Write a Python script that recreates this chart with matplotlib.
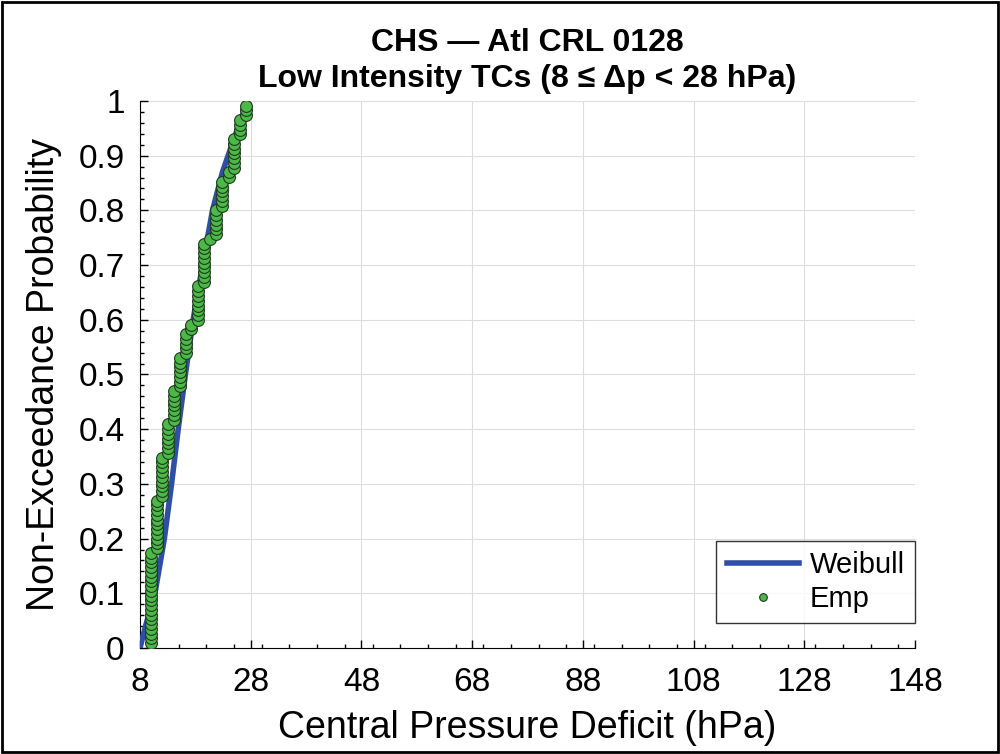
import matplotlib
matplotlib.use("Agg")
import numpy as np
import matplotlib.pyplot as plt
from matplotlib.ticker import MultipleLocator
from matplotlib.patches import Rectangle

# empirical sample: distinct deficits (hPa) and how many storms at each
emp_values = [9.9, 11.0, 12.0, 13.1, 14.2, 15.2, 16.3, 17.3, 18.5, 19.5,
              20.6, 21.8, 22.9, 24.0, 25.0, 26.1, 27.2]
emp_counts = [20, 11, 9, 7, 7, 7, 5, 2, 8, 9, 1, 6, 6, 2, 7, 4, 3]

# fitted Weibull CDF
wb_x = [8.0, 9.0, 10.7, 12.4, 13.7, 14.9, 16.2, 17.6, 19.3, 21.1, 22.9, 24.6, 26.0, 27.3]
wb_p = [0.0, 0.04, 0.10, 0.20, 0.30, 0.40, 0.50, 0.60, 0.70, 0.80, 0.87, 0.92, 0.96, 0.995]

xticks = [8, 28, 48, 68, 88, 108, 128, 148]
yticks = [0, 0.1, 0.2, 0.3, 0.4, 0.5, 0.6, 0.7, 0.8, 0.9, 1]
ytick_labels = ["0", "0.1", "0.2", "0.3", "0.4", "0.5", "0.6", "0.7", "0.8", "0.9", "1"]

plt.rcParams['font.family'] = ['Liberation Sans', 'DejaVu Sans']

emp_x = np.repeat(emp_values, emp_counts)
n = len(emp_x)
emp_p = np.arange(1, n + 1) / (n + 1)

fig = plt.figure(figsize=(10, 7.54), dpi=100)
ax = fig.add_axes([0.14, 0.1406, 0.775, 0.7255])

ax.plot(wb_x, wb_p, color='#2f4fa6', lw=4, label='Weibull', zorder=3)
ax.plot(emp_x, emp_p, 'o', ms=8.5, mfc='#4cb848', mec='#1e3a1e', mew=0.8,
        label='Emp', zorder=4)

ax.set_xlim(8, 148)
ax.set_ylim(0, 1)
ax.set_xticks(xticks)
ax.set_yticks(yticks)
ax.set_yticklabels(ytick_labels)
ax.xaxis.set_minor_locator(MultipleLocator(5))
ax.yaxis.set_minor_locator(MultipleLocator(0.02))
ax.tick_params(which='both', direction='in', labelsize=24, width=1)
ax.tick_params(which='major', length=6)
ax.tick_params(which='minor', length=3)
ax.tick_params(axis='x', pad=14)
ax.tick_params(axis='y', pad=11)
ax.grid(True, color='#dddddd', lw=0.8)
ax.set_axisbelow(True)
for s in ['top', 'right']:
    ax.spines[s].set_visible(False)

ax.set_xlabel('Central Pressure Deficit (hPa)', fontsize=27, labelpad=8)
ax.set_ylabel('Non-Exceedance Probability', fontsize=27, labelpad=12)
ax.set_title('CHS \u2014 Atl CRL 0128\nLow Intensity TCs (8 \u2264 \u0394p < 28 hPa)',
             fontsize=23, fontweight='bold', linespacing=1.25, pad=10)

leg = ax.legend(loc='lower right', bbox_to_anchor=(1.0, 0.045), fontsize=21,
                frameon=True, fancybox=False, edgecolor='black', markerscale=0.65,
                handlelength=2.5, handletextpad=0.35, borderaxespad=0,
                borderpad=0.35, labelspacing=0.2)
leg.get_frame().set_linewidth(1)

fig.add_artist(Rectangle((0.002, 0.002), 0.996, 0.996, transform=fig.transFigure,
                         fill=False, edgecolor='black', lw=2))

fig.savefig('out.png', dpi=100)
